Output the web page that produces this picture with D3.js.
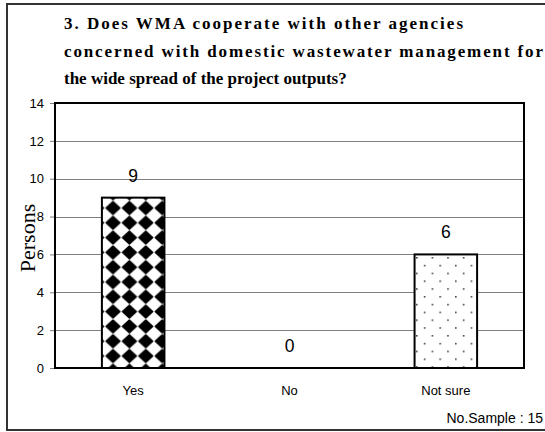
<!DOCTYPE html>
<html>
<head>
<meta charset="utf-8">
<script src="https://cdn.jsdelivr.net/npm/d3@7"></script>
<style>
  html, body { margin: 0; padding: 0; background: #fff; }
  svg { display: block; }
</style>
</head>
<body>
<svg id="chart" width="545" height="432"></svg>
<script>
// Survey question 3: answers and counts
const categories = ["Yes", "No", "Not sure"];
const persons = [9, 0, 6];
const yTicks = [0, 2, 4, 6, 8, 10, 12, 14];
const titleLines = [
  "3. Does WMA cooperate with other agencies",
  "concerned with domestic wastewater management for",
  "the wide spread of the project outputs?"
];
const sampleNote = "No.Sample : 15";
const barFills = ["url(#diamonds)", "url(#diamonds)", "url(#dots)"];

const svg = d3.select("#chart");
const W = 545, H = 432;
const plot = { left: 55, right: 524, top: 103, bottom: 368 };

// Fill patterns
const defs = svg.append("defs");
const pw = 16.4, ph = 14.8;
const dia = defs.append("pattern")
  .attr("id", "diamonds")
  .attr("patternUnits", "userSpaceOnUse")
  .attr("width", pw).attr("height", ph)
  .attr("x", 113 - pw / 2).attr("y", 208 - ph / 2);
dia.append("rect").attr("width", pw).attr("height", ph).attr("fill", "#fff");
const rx = 6.9, ry = 6.2;
dia.append("path")
  .attr("d", `M${pw / 2},${ph / 2 - ry}L${pw / 2 + rx},${ph / 2}L${pw / 2},${ph / 2 + ry}L${pw / 2 - rx},${ph / 2}Z`)
  .attr("fill", "#000").attr("stroke", "#000")
  .attr("stroke-width", 1.6).attr("stroke-linejoin", "round");

const dots = defs.append("pattern")
  .attr("id", "dots")
  .attr("patternUnits", "userSpaceOnUse")
  .attr("width", 15.6).attr("height", 15.6)
  .attr("x", 416).attr("y", 257);
dots.append("rect").attr("width", 15.6).attr("height", 15.6).attr("fill", "#fff");
[[0, 0], [7.8, 7.8]].forEach(([cx, cy]) => {
  dots.append("rect").attr("x", cx).attr("y", cy)
    .attr("width", 1.6).attr("height", 1.6).attr("fill", "#444");
});

// Outer frame
svg.append("rect")
  .attr("x", 7).attr("y", 4)
  .attr("width", W + 10).attr("height", 426)
  .attr("fill", "#fff").attr("stroke", "#333").attr("stroke-width", 2);

// Title: the first two lines are spread to their set widths
const titleWidths = [399, 479, null];
svg.append("g").selectAll("text").data(titleLines).join("text")
  .attr("x", 64)
  .attr("y", (d, i) => 29 + i * 27.5)
  .attr("font-family", "'Liberation Serif', 'Times New Roman', serif")
  .attr("font-weight", "bold")
  .attr("font-size", 17)
  .attr("fill", "#000")
  .attr("textLength", (d, i) => titleWidths[i])
  .attr("lengthAdjust", "spacing")
  .text(d => d);

// Scales
const x = d3.scaleBand().domain(categories)
  .range([plot.left, plot.right]).paddingInner(0.6).paddingOuter(0.3);
const y = d3.scaleLinear().domain([0, 14]).range([plot.bottom, plot.top]);

// Gridlines
svg.append("g").selectAll("line").data(yTicks.filter(t => t > 0 && t < 14)).join("line")
  .attr("x1", plot.left).attr("x2", plot.right)
  .attr("y1", d => Math.round(y(d)) + 0.5).attr("y2", d => Math.round(y(d)) + 0.5)
  .attr("stroke", "#7f7f7f").attr("stroke-width", 1);

// Y axis
const yAxis = svg.append("g")
  .attr("transform", `translate(${plot.left},0)`)
  .call(d3.axisLeft(y).tickValues(yTicks).tickSize(5).tickPadding(6).tickFormat(d3.format("d")));
yAxis.select(".domain").remove();
yAxis.selectAll(".tick line").attr("stroke", "#7f7f7f");
yAxis.selectAll(".tick text")
  .attr("font-family", "'Liberation Sans', Arial, sans-serif")
  .attr("font-size", 13).attr("fill", "#000");

// Bars
svg.append("g").selectAll("rect").data(persons).join("rect")
  .attr("x", (d, i) => x(categories[i]))
  .attr("y", d => y(d))
  .attr("width", x.bandwidth())
  .attr("height", d => y(0) - y(d))
  .attr("fill", (d, i) => barFills[i])
  .attr("stroke", "#000").attr("stroke-width", d => d > 0 ? 2 : 0);

// Plot border
svg.append("rect")
  .attr("x", plot.left).attr("y", plot.top)
  .attr("width", plot.right - plot.left).attr("height", plot.bottom - plot.top)
  .attr("fill", "none").attr("stroke", "#000").attr("stroke-width", 2);

// Value labels
svg.append("g").selectAll("text").data(persons).join("text")
  .attr("x", (d, i) => x(categories[i]) + x.bandwidth() / 2)
  .attr("y", d => y(d) - 16)
  .attr("text-anchor", "middle")
  .attr("font-family", "'Liberation Sans', Arial, sans-serif")
  .attr("font-size", 17.5).attr("fill", "#000")
  .text(d => d);

// Category labels
svg.append("g").selectAll("text").data(categories).join("text")
  .attr("x", d => x(d) + x.bandwidth() / 2)
  .attr("y", 395)
  .attr("text-anchor", "middle")
  .attr("font-family", "'Liberation Sans', Arial, sans-serif")
  .attr("font-size", 13).attr("fill", "#000")
  .text(d => d);

// Y axis title
svg.append("text")
  .attr("transform", "translate(35,238) rotate(-90)")
  .attr("text-anchor", "middle")
  .attr("font-family", "'Liberation Serif', 'Times New Roman', serif")
  .attr("font-size", 22).attr("fill", "#000")
  .text("Persons");

// Sample size note
svg.append("text")
  .attr("x", 543).attr("y", 423)
  .attr("text-anchor", "end")
  .attr("font-family", "'Liberation Sans', Arial, sans-serif")
  .attr("font-size", 14).attr("fill", "#000")
  .text(sampleNote);
</script>
</body>
</html>
